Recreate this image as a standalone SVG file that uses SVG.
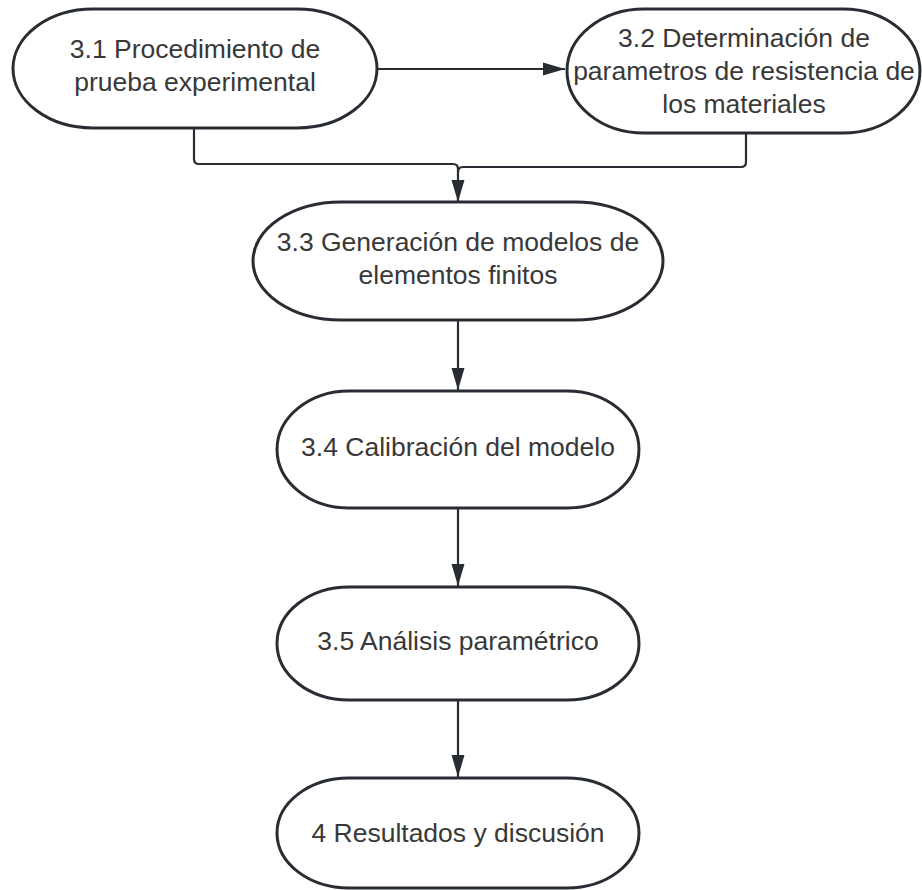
<svg xmlns="http://www.w3.org/2000/svg" width="922" height="890" viewBox="0 0 922 890">
<style>
.shape{fill:#ffffff;stroke:#282c33;stroke-width:3}
.lbl{font-family:"Liberation Sans",Arial,sans-serif;font-size:26.5px;fill:#383838;text-anchor:middle}
.conn{fill:none;stroke:#282c33;stroke-width:2.2}
</style>
<defs>
<marker id="arr" markerUnits="userSpaceOnUse" markerWidth="23" markerHeight="14" refX="22" refY="7" orient="auto">
<path d="M0,0.5 L22,7 L0,13.5 Z" fill="#282c33"/>
</marker>
</defs>
<rect x="0" y="0" width="922" height="890" fill="#ffffff"/>
<g id="connectors">
<path class="conn" d="M377,69 H565" marker-end="url(#arr)"/>
<path class="conn" d="M194,128 V159 Q194,164 199,164 H453 Q458,164 458,169 V202" marker-end="url(#arr)"/>
<path class="conn" d="M746,133 V162 Q746,167 741,167 H463 Q458,167 458,172"/>
<path class="conn" d="M458,320 V390" marker-end="url(#arr)"/>
<path class="conn" d="M458,508 V586" marker-end="url(#arr)"/>
<path class="conn" d="M458,700 V777" marker-end="url(#arr)"/>
</g>
<g id="n31">
<path class="shape" d="M93,9 H297 A80,59.5 0 0 1 297,128 H93 A80,59.5 0 0 1 93,9 Z"/>
<text class="lbl" x="195" y="58">3.1 Procedimiento de</text>
<text class="lbl" x="195" y="91">prueba experimental</text>
</g>
<g id="n32">
<path class="shape" d="M644,9 H843 A77,62 0 0 1 843,133 H644 A77,62 0 0 1 644,9 Z"/>
<text class="lbl" x="744" y="47">3.2 Determinación de</text>
<text class="lbl" x="744" y="80">parametros de resistencia de</text>
<text class="lbl" x="744" y="113">los materiales</text>
</g>
<g id="n33">
<path class="shape" d="M341,202 H575 A88,59 0 0 1 575,320 H341 A88,59 0 0 1 341,202 Z"/>
<text class="lbl" x="458" y="251">3.3 Generación de modelos de</text>
<text class="lbl" x="458" y="284">elementos finitos</text>
</g>
<g id="n34">
<path class="shape" d="M349,391 H567 A72,58.5 0 0 1 567,508 H349 A72,58.5 0 0 1 349,391 Z"/>
<text class="lbl" x="458" y="456">3.4 Calibración del modelo</text>
</g>
<g id="n35">
<path class="shape" d="M349,587 H567 A72,56.5 0 0 1 567,700 H349 A72,56.5 0 0 1 349,587 Z"/>
<text class="lbl" x="458" y="650">3.5 Análisis paramétrico</text>
</g>
<g id="n4">
<path class="shape" d="M349,778 H567 A72,55 0 0 1 567,888 H349 A72,55 0 0 1 349,778 Z"/>
<text class="lbl" x="458" y="842">4 Resultados y discusión</text>
</g>
</svg>
